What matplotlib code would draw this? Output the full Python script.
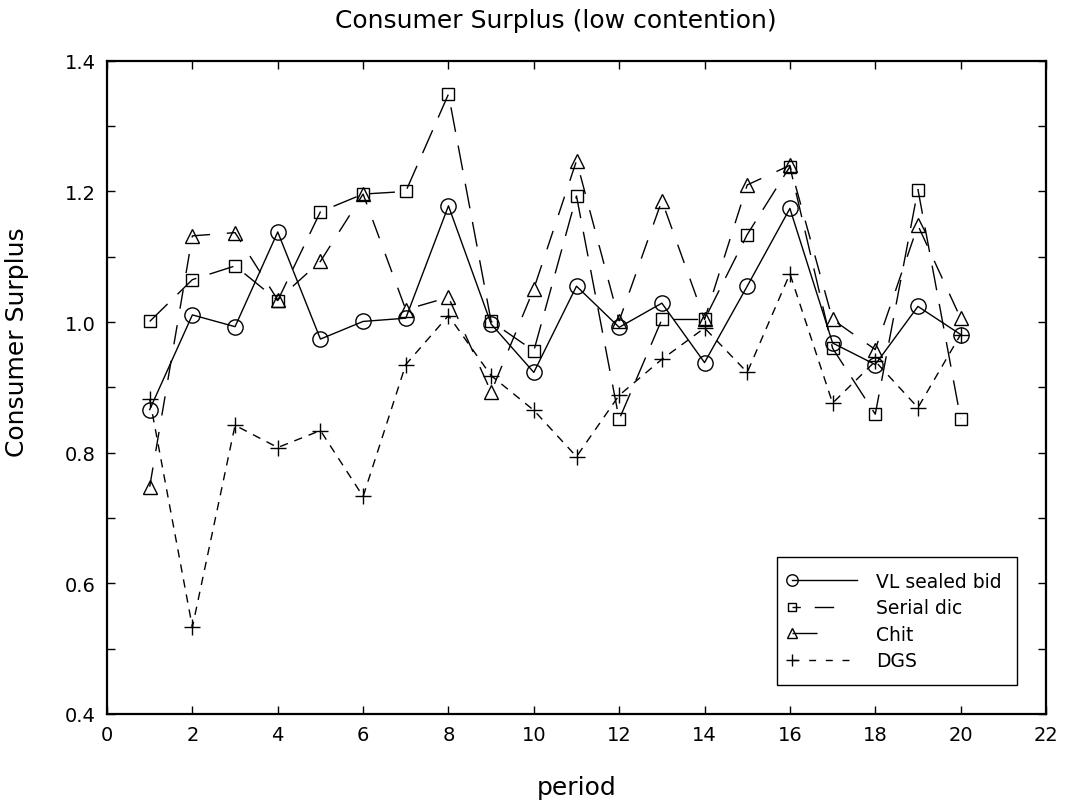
import numpy as np
import matplotlib
matplotlib.use("Agg")
import matplotlib.pyplot as plt
from matplotlib.lines import Line2D
from matplotlib.legend_handler import HandlerLine2D
from matplotlib.ticker import MultipleLocator

# DATA
# ==========================================
periods = list(range(1, 21))

vl_sealed_bid = [0.866, 1.011, 0.993, 1.138, 0.974, 1.001, 1.006, 1.178, 0.997, 0.923,
                 1.055, 0.992, 1.029, 0.938, 1.055, 1.174, 0.968, 0.935, 1.024, 0.981]
serial_dic = [1.001, 1.065, 1.086, 1.033, 1.169, 1.196, 1.200, 1.349, 1.001, 0.956,
              1.193, 0.851, 1.004, 1.004, 1.134, 1.238, 0.960, 0.859, 1.203, 0.852]
chit = [0.748, 1.132, 1.137, 1.034, 1.093, 1.196, 1.019, 1.038, 0.893, 1.051,
        1.247, 1.002, 1.186, 1.004, 1.210, 1.240, 1.004, 0.958, 1.148, 1.006]
dgs = [0.882, 0.533, 0.842, 0.808, 0.834, 0.733, 0.935, 1.010, 0.918, 0.865,
       0.794, 0.888, 0.943, 0.991, 0.923, 1.074, 0.876, 0.940, 0.869, 0.981]

series_names = ["VL sealed bid", "Serial dic", "Chit", "DGS"]

x_ticks = list(range(0, 23, 2))
y_ticks = [0.4, 0.6, 0.8, 1.0, 1.2, 1.4]


class LeftMarkerHandler(HandlerLine2D):
    # two-point sample line, but only the left point gets a marker
    def create_artists(self, *args, **kwargs):
        artists = super().create_artists(*args, **kwargs)
        for a in artists:
            a.set_markevery([0])
        return artists


def main():
    plt.rcParams['font.family'] = ['DejaVu Sans']

    fig = plt.figure(figsize=(10.67, 8.03), dpi=100)
    ax = fig.add_axes([0.1003, 0.1096, 0.8800, 0.8134])

    ink = 'black'
    # (marker, markersize, line style in plot, line style in legend)
    styles = [
        ('o', 11, '-', '-'),
        ('s', 8, (0, (18, 10)), (0, (6, 10, 14, 60))),
        ('^', 10, (0, (14, 12)), (0, (18, 60))),
        ('+', 11, (0, (6, 5)), (0, (5, 7))),
    ]
    series = [vl_sealed_bid, serial_dic, chit, dgs]

    handles = []
    for vals, name, (mk, ms, ls, leg_ls) in zip(series, series_names, styles):
        mfc = 'none' if mk != '+' else ink
        ax.plot(periods, vals, color=ink, lw=1.0, linestyle=ls,
                marker=mk, markersize=ms, markerfacecolor=mfc, markeredgewidth=1.0)
        handles.append(Line2D([], [], color=ink, lw=1.0, linestyle=leg_ls,
                              marker=mk, markersize=ms * 0.75, markerfacecolor=mfc,
                              markeredgewidth=1.0, label=name))

    # AXES
    # ==========================================
    ax.set_xlim(0, 22)
    ax.set_ylim(0.4, 1.4)
    ax.set_xticks(x_ticks)
    ax.set_yticks(y_ticks)
    ax.set_yticklabels([f"{v:.1f}" for v in y_ticks])
    ax.yaxis.set_minor_locator(MultipleLocator(0.1))
    ax.tick_params(which='both', direction='in', top=True, right=True,
                   length=6, width=1.0, labelsize=14, pad=8)
    for sp in ax.spines.values():
        sp.set_linewidth(1.6)

    ax.set_xlabel('period', fontsize=18, labelpad=22)
    fig.text(0.016, 0.574, 'Consumer Surplus', rotation=90, fontsize=18,
             ha='center', va='center')
    fig.text(0.521, 0.974, 'Consumer Surplus (low contention)', fontsize=18,
             ha='center', va='center')

    leg = ax.legend(handles=handles, loc='lower right', bbox_to_anchor=(0.969, 0.044),
                    handler_map={Line2D: LeftMarkerHandler(numpoints=2, marker_pad=0.0)},
                    fontsize=13.5, frameon=True, fancybox=False, framealpha=1,
                    handlelength=3.5, borderpad=0.8, labelspacing=0.4,
                    handletextpad=1.0, borderaxespad=0)
    leg.get_frame().set_edgecolor('black')
    leg.get_frame().set_linewidth(1.0)

    fig.savefig('out.png', dpi=100, facecolor='white')


if __name__ == '__main__':
    main()
